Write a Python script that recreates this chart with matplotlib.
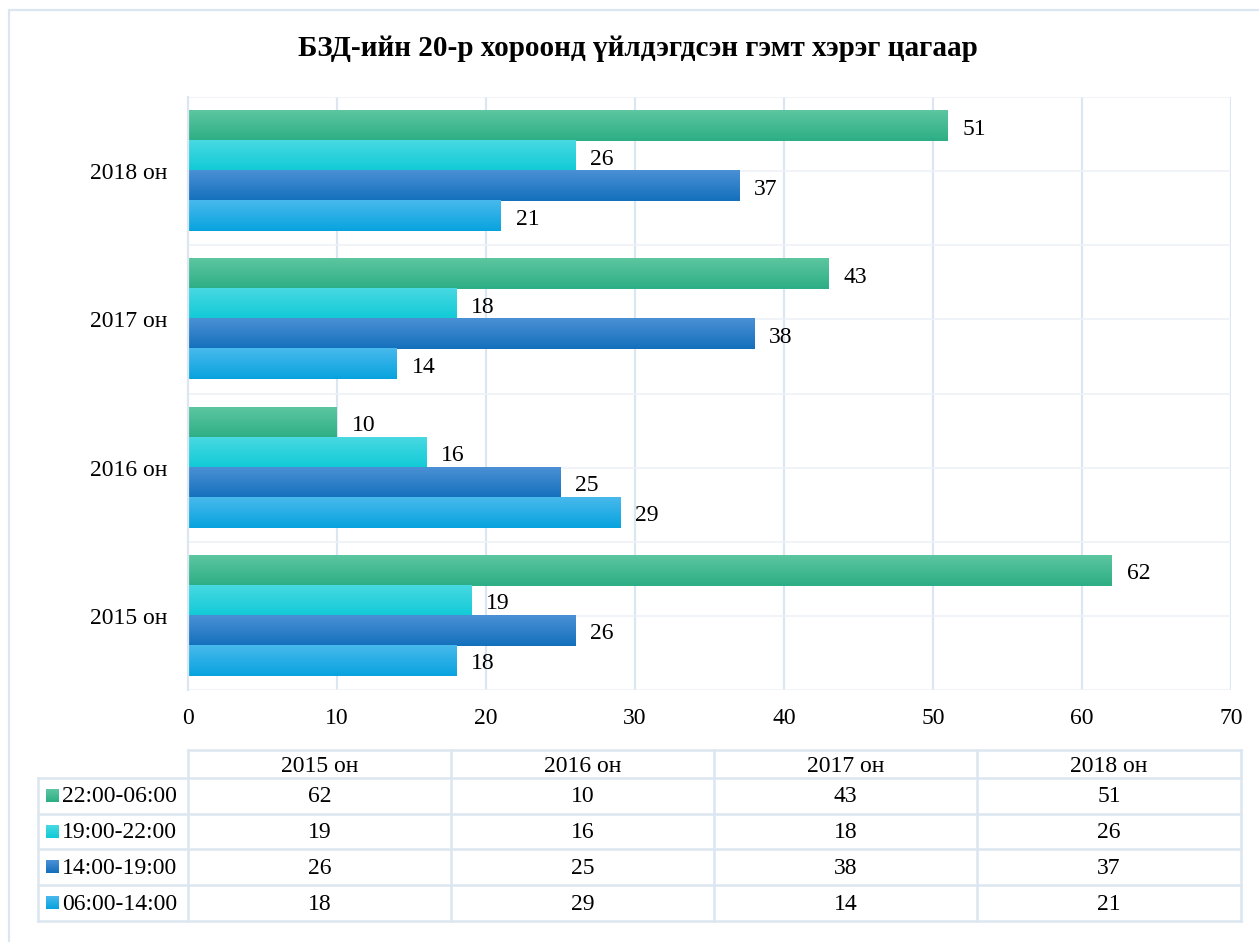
import numpy as np
import matplotlib
matplotlib.use("Agg")
import matplotlib.pyplot as plt
from matplotlib.patches import Rectangle
from matplotlib.colors import to_rgb

# ---- data ----
categories = ["2015 он", "2016 он", "2017 он", "2018 он"]
series_names = ["22:00-06:00", "19:00-22:00", "14:00-19:00", "06:00-14:00"]
s_22_06 = [62, 10, 43, 51]
s_19_22 = [19, 16, 18, 26]
s_14_19 = [26, 25, 38, 37]
s_06_14 = [18, 29, 14, 21]
series_values = [s_22_06, s_19_22, s_14_19, s_06_14]
x_ticks = [0, 10, 20, 30, 40, 50, 60, 70]
title = "БЗД-ийн 20-р хороонд үйлдэгдсэн гэмт хэрэг цагаар"

# gradient (top, bottom) colours per series
grad_colors = [("#5CC6A1", "#2DAE84"),
               ("#48D9E2", "#10CAD6"),
               ("#4A90D5", "#1470BC"),
               ("#48B9EC", "#08A3DF")]

plt.rcParams['font.family'] = ['Liberation Serif', 'DejaVu Serif']
FS = 17
GRID = "#DCE6F0"

W, H = 1259, 942
fig = plt.figure(figsize=(W / 100, H / 100), dpi=100)

def fx(px):
    return px / W

def fy(py):
    return 1 - py / H

# outer chart frame
frame = Rectangle((fx(9), fy(1000)), fx(1300), fy(10) - fy(1000), transform=fig.transFigure,
                  fill=False, edgecolor=GRID, linewidth=1.6, zorder=0)
fig.add_artist(frame)

fig.text(fx(638), fy(49), title, ha='center', va='center', fontsize=21, fontweight='bold')

# ---- bar chart ----
ax = fig.add_axes([fx(188), fy(690), fx(1231) - fx(188), fy(97) - fy(690)])

def grad_img(c_top, c_bot, n=64):
    t = np.linspace(0, 1, n)[:, None]
    a = np.array(to_rgb(c_top)); b = np.array(to_rgb(c_bot))
    return (a * (1 - t) + b * t)[:, None, :]

group_h = 0.81
bar_h = group_h / 4
for j, vals in enumerate(series_values):
    img = grad_img(*grad_colors[j])
    for i, v in enumerate(vals):
        yc = i + group_h / 2 - bar_h / 2 - j * bar_h
        ax.imshow(img, extent=[0, v, yc - bar_h / 2, yc + bar_h / 2],
                  aspect='auto', interpolation='bilinear', zorder=3, origin='upper')
        ax.text(v + 1.0, yc - 0.02, str(v), ha='left', va='center', fontsize=FS, zorder=4)

ax.set_xlim(0, 70)
ax.set_ylim(-0.5, 3.5)
ax.set_aspect('auto')
ax.set_xticks(x_ticks)
ax.set_xticklabels([str(t) for t in x_ticks], fontsize=FS)
ax.set_yticks(range(len(categories)))
ax.set_yticklabels(categories, fontsize=FS)
ax.tick_params(axis='both', length=0)
ax.tick_params(axis='x', pad=13)
ax.tick_params(axis='y', pad=15)
for x in x_ticks[1:]:
    ax.axvline(x, color=GRID, linewidth=1.6, zorder=1)
for y in np.arange(-0.5, 3.51, 0.5):
    ax.axhline(y, color="#EEF2F7", linewidth=1.2, zorder=1)
for s in ['top', 'right', 'bottom']:
    ax.spines[s].set_visible(False)
ax.spines['left'].set_color(GRID)
ax.spines['left'].set_linewidth(1.6)
ax.spines['left'].set_zorder(5)

# ---- data table ----
tax = fig.add_axes([0, 0, 1, 1])
tax.set_xlim(0, W)
tax.set_ylim(H, 0)
tax.axis('off')
col_x = [38, 188, 451, 714, 977, 1241]
row_y = [750, 778, 814, 849, 885, 921]
lw = 1.8
# header row (data columns only)
tax.plot([188, 1241], [row_y[0], row_y[0]], color=GRID, lw=lw)
for r in row_y[1:]:
    tax.plot([col_x[0], col_x[-1]], [r, r], color=GRID, lw=lw)
tax.plot([col_x[0], col_x[0]], [row_y[1], row_y[-1]], color=GRID, lw=lw)
for c in col_x[1:]:
    tax.plot([c, c], [row_y[0], row_y[-1]], color=GRID, lw=lw)

for k, cat in enumerate(categories):
    cx = (col_x[k + 1] + col_x[k + 2]) / 2
    tax.text(cx, (row_y[0] + row_y[1]) / 2 + 2, cat, ha='center', va='center', fontsize=FS)
for j, name in enumerate(series_names):
    cy = (row_y[j + 1] + row_y[j + 2]) / 2
    img = grad_img(*grad_colors[j], n=16)
    tax.imshow(img, extent=[46, 59, cy + 6.5, cy - 6.5], aspect='auto',
               interpolation='bilinear', origin='upper')
    tax.text(62, cy + 1, name, ha='left', va='center', fontsize=FS)
    for k, v in enumerate(series_values[j]):
        cx = (col_x[k + 1] + col_x[k + 2]) / 2
        tax.text(cx, cy + 1, str(v), ha='center', va='center', fontsize=FS)
tax.set_xlim(0, W)
tax.set_ylim(H, 0)
tax.set_aspect('auto')

fig.savefig("out.png", dpi=100)
